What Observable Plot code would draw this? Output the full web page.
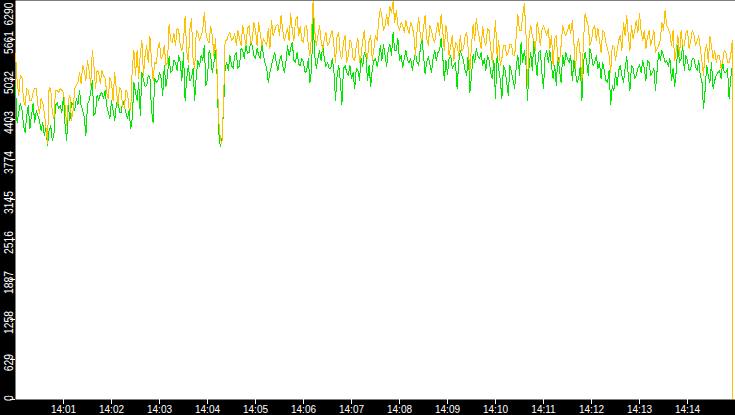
<!DOCTYPE html>
<html><head><meta charset="utf-8">
<script src="https://cdn.jsdelivr.net/npm/d3@7"></script>
<script src="https://cdn.jsdelivr.net/npm/@observablehq/plot@0.6"></script>
<style>
html,body{margin:0;padding:0;background:#000;overflow:hidden;}
#chart svg{display:block;}
</style></head><body><div id="chart"></div>
<script>
const startTime = "2024-01-01T14:00:00Z";
const stepSeconds = 2;
const dropTime = "2024-01-01T14:14:56Z";
const orangeDropValue = 0;
const greenDropValue = 2736;
const orangeValues = [
5441,5016,4780,5095,5079,4702,4623,4890,4859,4702,4702,4827,4890,4890,4623,4497,4733,4670,4513,4293,
4025,4906,4890,4513,4418,4859,4859,4827,4890,4859,4827,4623,4308,4702,4780,4387,4544,4890,4937,4985,
5142,4969,5252,5173,5016,5331,5173,4937,5488,5252,4890,5173,5142,4969,5173,5095,5047,4827,4733,5063,
4985,4702,5142,4890,4623,4906,4859,4607,4576,4859,4827,4576,4544,5221,5488,5095,5488,5047,5441,5645,
5095,5409,5566,5299,5708,5331,5016,5299,5283,5519,5614,5362,5409,5566,5252,5299,5897,5645,5614,5755,
5566,5834,5802,5566,5488,5645,6022,5488,5299,5834,5991,5331,5205,5802,5771,5645,5724,5802,6085,5771,
5645,5614,5865,5724,5409,5676,5173,4387,4104,4025,4623,5645,5645,5724,5771,5645,5676,5755,5566,5802,
5676,5566,5881,5724,5566,5834,5881,5598,5645,5928,5802,5566,5928,5755,5566,5676,5614,5566,5834,5519,
5960,5724,5802,5881,5897,5724,6038,5802,5645,5739,5834,5645,6070,5802,5645,5960,6022,5724,5865,5645,
5614,5865,5881,5566,5409,5724,6270,5802,5566,5724,5881,5645,5488,5676,5771,5566,5614,5739,5802,5566,
5299,5724,5771,5409,5362,5614,5724,5299,5409,5645,5614,5362,5331,5566,5676,5299,5409,5645,5802,5456,
5362,5645,5724,5331,5519,5724,5645,5960,6148,6038,5802,5881,6054,5881,6180,6085,6258,5928,6117,5881,
5802,5928,5881,5771,5960,5834,5755,5928,5865,5724,5409,5802,6007,5724,5645,5834,6038,5676,5566,5881,
5802,5676,5614,5802,5928,5724,6054,5802,5488,5881,5724,5409,5566,5724,5331,5614,5566,5409,5724,5488,
5519,5708,5771,5488,5173,5566,5897,5645,5991,5802,5676,5519,5865,5645,5566,5834,5802,5519,5299,5645,
5960,5409,5645,5252,5362,5566,5566,5409,5456,5582,5582,5409,5409,5724,6054,5802,5802,6038,6227,5802,
4937,5724,5881,5724,5645,5488,5928,5802,5566,5802,5881,5802,5724,5834,5519,5724,5252,5676,5724,5331,
5299,5566,5881,5771,5724,5802,5897,5755,5960,5614,5205,5566,5676,5409,5016,5645,6070,5960,5881,5566,
5645,5834,5881,5645,5834,5645,5456,5802,5771,5614,5519,5409,5142,5566,5551,5331,5488,5645,5724,5488,
5928,5724,6038,5724,5488,5881,5676,5802,5960,5771,6070,5802,5645,5802,5519,5708,5802,5566,5676,5802,
5456,5519,5566,5645,5928,5802,6117,5881,5834,5755,5566,5802,5331,5488,5724,5409,5802,5566,5566,5755,
5802,5519,5645,5802,5739,5566,5645,5724,5519,5331,5095,5488,5582,5299,5708,5566,5362,5488,5299,5409,
5409,5205,5331,5488,5456,5299,5299,5409,5645
];
const greenValues = [
4937,4356,4513,4654,4576,4308,4198,4466,4623,4261,4466,4654,4356,4544,4466,4387,4230,4356,4151,4261,
3994,4230,4308,4073,4151,4623,4670,4576,4623,4513,4780,4308,4073,4623,4387,4670,4623,4544,4733,4639,
4859,4623,4544,4434,4151,4639,4702,4827,5016,4466,4513,4780,4702,4796,4827,4733,4859,4623,4513,4418,
4702,4544,4387,4623,4733,4513,4513,4702,4623,4513,4418,4544,4261,4418,4985,4827,4702,4985,4466,5142,
5016,4922,4937,5095,5079,4544,4356,5047,4985,5016,5142,5047,4780,5252,4922,5095,5393,5142,5173,5331,
5299,5173,5409,5299,5016,5456,4702,5047,5252,5016,5047,5205,4702,5095,5331,5236,5409,5331,5566,4937,
5047,5488,5409,5142,5299,5488,5095,4198,3978,4073,4544,5205,5299,5173,5409,5252,5205,5409,5456,5205,
5252,5519,5488,5362,5582,5441,5456,5645,5566,5409,5362,5519,5409,5362,5614,5409,5283,5205,4985,5142,
5252,5362,5456,5299,5173,5331,5409,5252,5142,5299,5566,5409,5519,5614,5331,5299,5456,5268,5252,5362,
5299,5142,5173,5362,4985,5173,5991,5409,5205,5362,5488,5331,5566,5362,5236,5299,5205,5205,5362,5173,
4702,5095,5252,5016,4639,5205,5252,5142,5095,5252,5047,5142,4890,5205,5173,5016,5362,5236,5456,5409,
5016,5252,4922,5205,5331,5362,5236,5362,5566,5331,5582,5409,5236,5519,5582,5409,5771,5488,5488,5676,
5331,5409,5220,5362,5488,5331,5299,5362,5173,5331,5456,5299,5252,5519,5676,5409,5126,5299,5393,5268,
5142,5362,5488,5331,5456,5488,5676,5409,5016,5331,5110,5362,5409,5205,5252,5299,4890,5299,5488,5409,
5331,5173,5095,5456,4827,5095,5425,5299,5519,5409,5362,5456,5252,5362,5173,5409,5331,5142,5047,5331,
4733,5409,5205,5016,4733,5252,5173,4985,4780,5252,5142,5016,4890,5252,5409,5095,5614,5299,5488,5299,
4702,5252,5456,5173,5645,5331,5095,5456,5488,5142,4890,5409,5488,5299,5488,5252,5047,5252,4937,5409,
5173,4985,5409,5252,5456,5362,5299,5409,5016,5331,5142,4985,5047,5252,4702,5299,5456,5299,5095,5519,
5409,5252,5299,5409,5205,5299,5047,5299,5173,5016,4985,5173,4639,4937,4859,5142,4937,5173,5252,5095,
4985,5205,5393,5095,4859,5252,5205,5047,5095,5205,5268,5142,5331,5205,5016,5331,5299,5095,5142,5205,
4859,5173,5456,5331,5488,5409,5299,5331,5236,5362,5016,5205,4922,5173,5566,5299,5362,5566,5173,5409,
5331,5173,5205,5362,5362,5236,5173,5331,5095,5016,4576,4859,5252,5095,4985,5299,4890,5016,5095,5142,
5173,5047,5299,5142,5142,5205,4733,5047,5252
];
const yTicks = [0,629,1258,1887,2516,3145,3774,4403,5032,5661,6290];
const xTickLabels = ["14:01","14:02","14:03","14:04","14:05","14:06","14:07","14:08","14:09","14:10","14:11","14:12","14:13","14:14"];
const seriesColors = {green: "#00e800", orange: "#ffc000"};

const t0 = new Date(startTime);
const tDrop = new Date(dropTime);
const timeAt = i => new Date(t0.getTime() + i * stepSeconds * 1000);
const greenRows = greenValues.map((v, i) => ({time: timeAt(i), value: v}))
  .concat([{time: tDrop, value: greenDropValue}]);
const orangeRows = orangeValues.map((v, i) => ({time: timeAt(i), value: v}))
  .concat([{time: tDrop, value: orangeDropValue}]);
const xTicks = xTickLabels.map(s => new Date(`2024-01-01T${s}:00Z`));
const tEnd = new Date(t0.getTime() + 15 * 60 * 1000);
const midTicks = yTicks.slice(1, -1);
const topTick = yTicks.slice(-1);
const bottomTick = yTicks.slice(0, 1);

const labelOpts = {y: d => d, text: d => String(d), frameAnchor: "left", dx: -2.5, rotate: -90,
  textAnchor: "middle", lineAnchor: "bottom", fill: "white", fontSize: 12};

const plot = Plot.plot({
  width: 735, height: 415,
  marginLeft: 15, marginRight: 0, marginTop: 0, marginBottom: 16,
  style: {background: "#000", color: "#fff", fontFamily: "'Liberation Sans', Arial, sans-serif", fontSize: "10px", overflow: "hidden"},
  x: {type: "utc", domain: [t0, tEnd], ticks: xTicks, tickFormat: d3.utcFormat("%H:%M"), tickSize: 5, tickPadding: 1.5, label: null},
  y: {domain: [0, 6290], range: [399, -1], ticks: yTicks, tickSize: 5, tickFormat: () => "", label: null},
  marks: [
    Plot.frame({fill: "white", stroke: "none"}),
    Plot.line(greenRows, {x: "time", y: "value", stroke: seriesColors.green, strokeWidth: 1, shapeRendering: "crispEdges", clip: true}),
    Plot.line(orangeRows, {x: "time", y: "value", stroke: seriesColors.orange, strokeWidth: 1, shapeRendering: "crispEdges", clip: true}),
    Plot.text(midTicks, {...labelOpts, dy: 3}),
    Plot.text(topTick, {...labelOpts, dy: 14.5}),
    Plot.text(bottomTick, {...labelOpts, dy: -1.5})
  ]
});
document.getElementById("chart").appendChild(plot);

const yLabelSet = new Set(yTicks.map(String));
d3.select(plot).selectAll("text").each(function() {
  const s = this.textContent;
  if (yLabelSet.has(s)) {
    this.setAttribute("textLength", (s.length * 5.75).toFixed(2));
    this.setAttribute("lengthAdjust", "spacingAndGlyphs");
  }
});
</script>
</body></html>
